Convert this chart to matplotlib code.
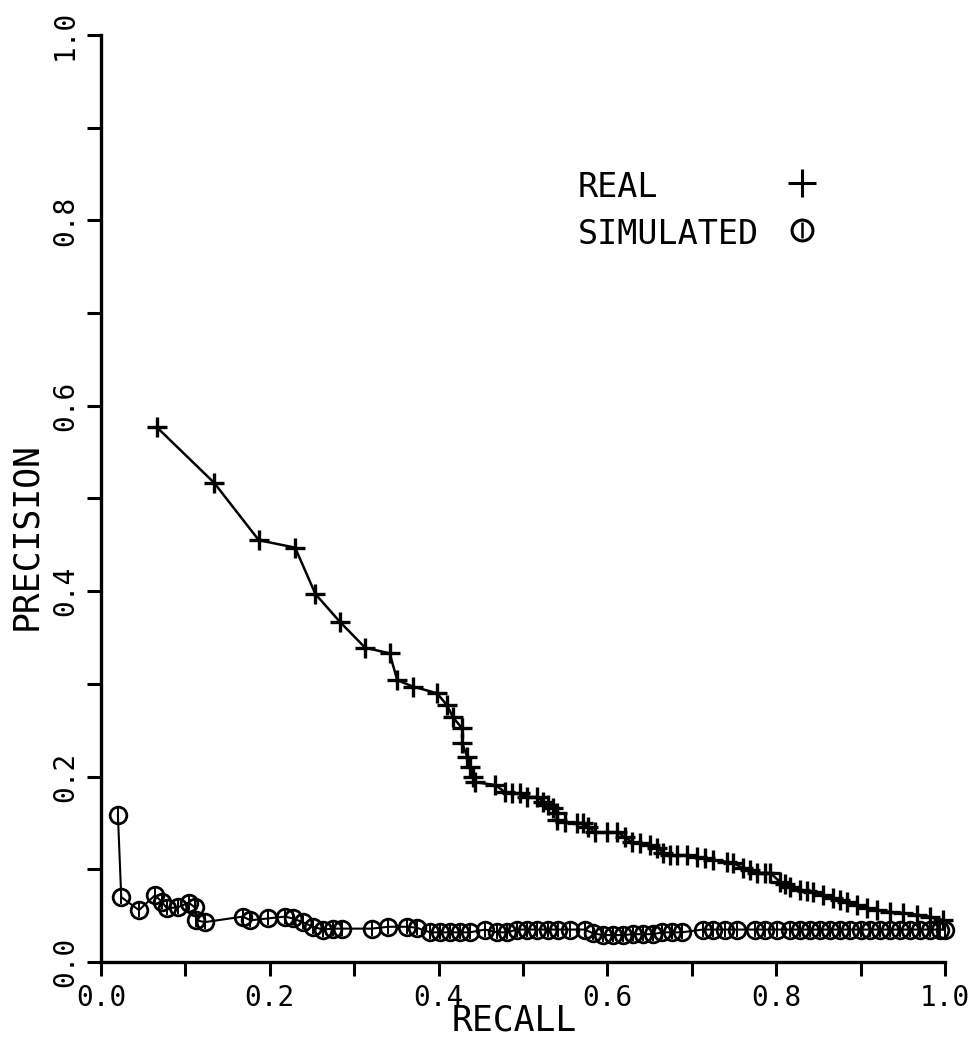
import matplotlib
matplotlib.use("Agg")
import matplotlib.pyplot as plt
from matplotlib.ticker import MultipleLocator, FormatStrFormatter

# ---- data ----
real_recall = [0.066, 0.134, 0.187, 0.230, 0.254, 0.283, 0.313, 0.342, 0.351, 0.370,
               0.398, 0.410, 0.417, 0.428, 0.428, 0.434, 0.437, 0.441, 0.443, 0.467,
               0.479, 0.487, 0.496, 0.505, 0.517, 0.524, 0.530, 0.536, 0.540, 0.540,
               0.550, 0.564, 0.571, 0.577, 0.585, 0.600, 0.611, 0.621, 0.629, 0.639,
               0.650, 0.659, 0.666, 0.674, 0.682, 0.694, 0.706, 0.716, 0.725, 0.742,
               0.749, 0.761, 0.769, 0.777, 0.787, 0.793, 0.805, 0.810, 0.816, 0.828,
               0.836, 0.844, 0.855, 0.867, 0.876, 0.884, 0.896, 0.908, 0.919, 0.935,
               0.950, 0.967, 0.982, 0.998]
real_precision = [0.577, 0.517, 0.455, 0.447, 0.397, 0.367, 0.339, 0.333, 0.304, 0.297,
                  0.290, 0.277, 0.264, 0.252, 0.236, 0.221, 0.210, 0.200, 0.194, 0.191,
                  0.183, 0.182, 0.182, 0.178, 0.178, 0.173, 0.169, 0.166, 0.161, 0.153,
                  0.151, 0.150, 0.150, 0.146, 0.140, 0.140, 0.140, 0.135, 0.129, 0.128,
                  0.126, 0.123, 0.118, 0.115, 0.115, 0.115, 0.113, 0.112, 0.110, 0.108,
                  0.107, 0.101, 0.099, 0.096, 0.096, 0.096, 0.086, 0.084, 0.081, 0.078,
                  0.077, 0.076, 0.072, 0.069, 0.067, 0.065, 0.061, 0.058, 0.056, 0.054,
                  0.053, 0.051, 0.049, 0.045]

sim_recall = [0.020, 0.024, 0.045, 0.064, 0.072, 0.078, 0.091, 0.104, 0.111, 0.113,
              0.123, 0.168, 0.177, 0.198, 0.218, 0.227, 0.239, 0.251, 0.263, 0.275,
              0.286, 0.321, 0.340, 0.363, 0.374, 0.390, 0.402, 0.414, 0.425, 0.437,
              0.455, 0.469, 0.481, 0.493, 0.505, 0.517, 0.530, 0.541, 0.556, 0.573,
              0.583, 0.595, 0.607, 0.618, 0.630, 0.642, 0.654, 0.665, 0.677, 0.688,
              0.713, 0.725, 0.739, 0.754, 0.775, 0.787, 0.801, 0.816, 0.828, 0.840,
              0.852, 0.864, 0.876, 0.888, 0.900, 0.911, 0.923, 0.935, 0.947, 0.959,
              0.970, 0.982, 0.994, 1.000]
sim_precision = [0.159, 0.070, 0.056, 0.072, 0.065, 0.058, 0.059, 0.064, 0.059, 0.045,
                 0.043, 0.049, 0.045, 0.047, 0.049, 0.047, 0.043, 0.038, 0.035, 0.036,
                 0.036, 0.036, 0.038, 0.038, 0.037, 0.032, 0.032, 0.032, 0.032, 0.032,
                 0.035, 0.032, 0.032, 0.035, 0.035, 0.035, 0.035, 0.035, 0.035, 0.035,
                 0.031, 0.029, 0.029, 0.029, 0.030, 0.030, 0.030, 0.032, 0.032, 0.032,
                 0.035, 0.035, 0.035, 0.035, 0.035, 0.035, 0.035, 0.035, 0.035, 0.035,
                 0.035, 0.035, 0.035, 0.035, 0.035, 0.035, 0.035, 0.035, 0.035, 0.035,
                 0.035, 0.035, 0.035, 0.035]

x_label = "RECALL"
y_label = "PRECISION"
legend_labels = ["REAL", "SIMULATED"]

# ---- figure ----
fig = plt.figure(figsize=(9.79, 10.57), dpi=100)
ax = fig.add_axes([101/979, 95/1057, 844/979, 927/1057])
FONT = "DejaVu Sans Mono"

ax.plot(real_recall, real_precision, color="black", lw=1.8, marker="+",
        ms=15, mew=2.4, clip_on=False)
ax.plot(sim_recall, sim_precision, color="black", lw=1.5, marker="o",
        ms=12, mfc="none", mew=2.0, clip_on=False)
ax.plot(sim_recall, sim_precision, ls="none", color="black", marker="|",
        ms=10, mew=1.4, clip_on=False)

ax.set_xlim(0, 1.0)
ax.set_ylim(0, 1.0)
for s in ["top", "right"]:
    ax.spines[s].set_visible(False)
for s in ["left", "bottom"]:
    ax.spines[s].set_linewidth(2.4)

ax.xaxis.set_major_locator(MultipleLocator(0.2))
ax.xaxis.set_minor_locator(MultipleLocator(0.1))
ax.yaxis.set_major_locator(MultipleLocator(0.2))
ax.yaxis.set_minor_locator(MultipleLocator(0.1))
ax.xaxis.set_major_formatter(FormatStrFormatter("%.1f"))
ax.yaxis.set_major_formatter(FormatStrFormatter("%.1f"))
ax.tick_params(which="both", direction="out", width=2.2, length=10, color="black")
ax.tick_params(axis="both", labelsize=20)
for lab in ax.get_xticklabels():
    lab.set_fontfamily(FONT)
for lab in ax.get_yticklabels():
    lab.set_fontfamily(FONT)
    lab.set_rotation(90)
    lab.set_va("center")
ax.tick_params(axis="x", pad=6)
ax.tick_params(axis="y", pad=6)

ax.set_xlabel(x_label, fontsize=25, family=FONT, labelpad=2)
ax.set_ylabel(y_label, fontsize=25, family=FONT, labelpad=2)
ax.yaxis.set_label_coords(-0.068, 0.46)
ax.xaxis.set_label_coords(0.49, -0.045)

# legend as text with symbols
ax.text(0.565, 0.835, legend_labels[0], transform=ax.transAxes, fontsize=24,
        family=FONT, va="center", ha="left")
ax.text(0.565, 0.785, legend_labels[1], transform=ax.transAxes, fontsize=24,
        family=FONT, va="center", ha="left")
ax.plot([0.83], [0.840], transform=ax.transAxes, marker="+", ms=20, mew=2.2,
        color="black", clip_on=False)
ax.plot([0.83], [0.790], transform=ax.transAxes, marker="o", ms=15, mfc="none",
        mew=2.2, color="black", clip_on=False)
ax.plot([0.83], [0.790], transform=ax.transAxes, marker="|", ms=12, mew=1.8,
        color="black", clip_on=False)

fig.savefig("out.png", dpi=100, facecolor="white")
